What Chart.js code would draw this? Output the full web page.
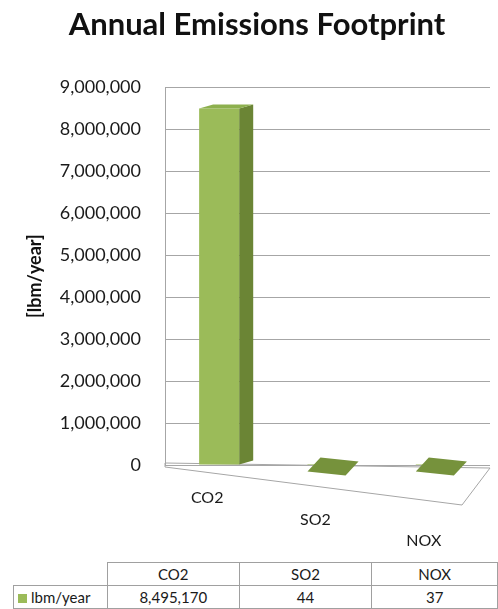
<!DOCTYPE html>
<meta charset="utf-8" />
<title>Annual Emissions Footprint</title>
<script src="https://cdn.jsdelivr.net/npm/chart.js@4/dist/chart.umd.min.js"></script>
<style>
body {
	margin: 0;
	background: #fff;
	font-family: 'Lato', sans-serif;
}
.wrap {
	position: relative;
	width: 498px;
	height: 609px;
}
.chart {
	position: absolute;
	left: 0;
	top: 0;
	width: 498px;
	height: 560px;
}
.datatable {
	position: absolute;
	left: 13px;
	top: 562px;
	border-collapse: collapse;
	table-layout: fixed;
	font-size: 15px;
	color: #1a1a1a;
}
.datatable td, .datatable th {
	border: 1px solid #a0a0a0;
	text-align: center;
	font-weight: normal;
	padding: 0;
	height: 22px;
}
.datatable th.blank {
	border-top: none;
	border-left: none;
}
.datatable td.key {
	text-align: left;
	padding-left: 4px;
}
.swatch {
	display: inline-block;
	width: 9px;
	height: 9px;
	background: #9bbb59;
	margin-right: 4px;
}
</style>

<div class="wrap">
	<div class="chart"><canvas id="c" width="498" height="560"></canvas></div>
	<table class="datatable"></table>
</div>

<script>
const categories = ['CO2', 'SO2', 'NOX'];
const seriesName = 'lbm/year';
const emissions = [8495170, 44, 37];
const yTicksMax = 9000000;
const yTicksStep = 1000000;

function $(q) {return document.querySelector(q);}

const fmt = v => Number(v).toLocaleString('en-US');

// fake 3D: side and top faces of each bar, plus a floor
const depth = {dx: 14, dy: -4};
const threeD = {
	id: 'threeD',
	beforeDatasetsDraw(chart) {
		const {ctx, chartArea: a} = chart;
		ctx.save();
		ctx.strokeStyle = '#a6a6a6';
		ctx.lineWidth = 1;
		ctx.beginPath();
		ctx.moveTo(a.left, a.bottom - 2);
		ctx.lineTo(a.right, a.bottom + 3);
		ctx.lineTo(a.right - 28, a.bottom + 40);
		ctx.lineTo(a.left, a.bottom + 2);
		ctx.closePath();
		ctx.stroke();
		ctx.restore();
	},
	afterDatasetsDraw(chart) {
		const {ctx} = chart;
		const meta = chart.getDatasetMeta(0);
		ctx.save();
		meta.data.forEach(bar => {
			const {x, y, base, width} = bar.getProps(['x', 'y', 'base', 'width'], true);
			const l = x - width / 2, r = x + width / 2;
			if (base - y < 2) {
				// nearly zero: flat footprint lying on the floor
				ctx.fillStyle = '#76923c';
				ctx.beginPath();
				ctx.moveTo(l, base + 7);
				ctx.lineTo(r - 2, base + 11);
				ctx.lineTo(r + 11, base - 3);
				ctx.lineTo(l + 13, base - 7);
				ctx.closePath();
				ctx.fill();
				return;
			}
			// side
			ctx.fillStyle = '#6b8535';
			ctx.beginPath();
			ctx.moveTo(r, y);
			ctx.lineTo(r + depth.dx, y + depth.dy);
			ctx.lineTo(r + depth.dx, base + depth.dy);
			ctx.lineTo(r, base);
			ctx.closePath();
			ctx.fill();
			// top
			ctx.fillStyle = '#8db04e';
			ctx.beginPath();
			ctx.moveTo(l, y);
			ctx.lineTo(l + depth.dx, y + depth.dy);
			ctx.lineTo(r + depth.dx, y + depth.dy);
			ctx.lineTo(r, y);
			ctx.closePath();
			ctx.fill();
		});
		ctx.restore();
	}
};

new Chart($('#c'), {
	type: 'bar',
	data: {
		labels: categories.map((c, i) => [...Array(i).fill(''), c]),
		datasets: [{
			label: seriesName,
			data: emissions,
			backgroundColor: '#9bbb59',
			barPercentage: 0.37,
			categoryPercentage: 1,
		}]
	},
	options: {
		responsive: false,
		animation: false,
		devicePixelRatio: 1,
		layout: {padding: {left: 24, right: 8, top: 0, bottom: 0}},
		plugins: {
			legend: {display: false},
			tooltip: {enabled: false},
			title: {
				display: true,
				text: 'Annual Emissions Footprint',
				color: '#111',
				font: {family: 'Lato', size: 31, weight: 'bold'},
				padding: {top: 6, bottom: 44},
			},
		},
		scales: {
			x: {
				afterFit: s => { s.height = 95; },
				grid: {display: false, drawTicks: false},
				border: {display: false},
				ticks: {
					color: '#1a1a1a',
					font: {family: 'Lato', size: 16, lineHeight: 1.35},
					padding: 22,
					labelOffset: -12,
					maxRotation: 0,
				},
			},
			y: {
				min: 0,
				max: yTicksMax,
				afterFit: s => { s.width = 141; },
				grid: {color: '#a6a6a6', drawTicks: false},
				border: {display: true, color: '#a6a6a6'},
				ticks: {
					stepSize: yTicksStep,
					color: '#1a1a1a',
					font: {family: 'Lato', size: 18},
					padding: 24,
					callback: v => fmt(v),
				},
				title: {
					display: true,
					text: '[lbm/year]',
					color: '#111',
					font: {family: 'Lato', size: 18, weight: 'bold'},
					padding: {top: 0, bottom: 0},
				},
			},
		},
	},
	plugins: [threeD],
});

// data table under the chart
const tbl = $('.datatable');
const colw = [94, 132, 133, 126];
const cg = document.createElement('colgroup');
colw.forEach(w => { const col = document.createElement('col'); col.style.width = w + 'px'; cg.append(col); });
tbl.append(cg);
const hr = document.createElement('tr');
const blank = document.createElement('th');
blank.className = 'blank';
hr.append(blank);
categories.forEach(cat => { const th = document.createElement('th'); th.textContent = cat; hr.append(th); });
tbl.append(hr);
const br = document.createElement('tr');
const key = document.createElement('td');
key.className = 'key';
key.innerHTML = '<span class="swatch"></span>';
key.append(seriesName);
br.append(key);
emissions.forEach(v => { const td = document.createElement('td'); td.textContent = fmt(v); br.append(td); });
tbl.append(br);
</script>
